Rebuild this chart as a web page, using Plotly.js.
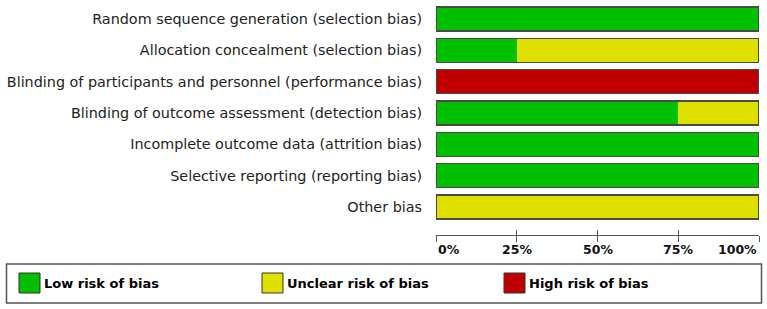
<!DOCTYPE html>
<html>
<head>
<meta charset="utf-8">
<script src="https://cdn.plot.ly/plotly-3.0.1.min.js"></script>
<style>
  html, body { margin: 0; padding: 0; background: #fff; }
  #chart { width: 767px; height: 309px; }
</style>
</head>
<body>
<div id="chart"></div>
<script>
// Risk-of-bias domains, top to bottom
const domains = [
  "Random sequence generation (selection bias)",
  "Allocation concealment (selection bias)",
  "Blinding of participants and personnel (performance bias)",
  "Blinding of outcome assessment (detection bias)",
  "Incomplete outcome data (attrition bias)",
  "Selective reporting (reporting bias)",
  "Other bias"
];

// Percentage of studies per judgement
const lowRisk     = [100, 25, 0, 75, 100, 100, 0];
const unclearRisk = [0, 75, 0, 25, 0, 0, 100];
const highRisk    = [0, 0, 100, 0, 0, 0, 0];

const seriesNames  = ["Low risk of bias", "Unclear risk of bias", "High risk of bias"];
const seriesColors = ["#00c000", "#e0e000", "#c00000"];

const tickValues = [0, 25, 50, 75, 100];
const tickLabels = ["0%", "25%", "50%", "75%", "100%"];

// ---- layout geometry (pixels) ----
const W = 767, H = 309;
const M = { l: 436, r: 8, t: 3, b: 74 };
const plotW = W - M.l - M.r, plotH = H - M.t - M.b;
const px2x = px => (px - M.l) / plotW;
const px2y = py => (H - M.b - py) / plotH;

const series = [lowRisk, unclearRisk, highRisk];
const traces = series.map((vals, i) => ({
  type: "bar",
  orientation: "h",
  name: seriesNames[i],
  x: vals,
  y: domains,
  marker: { color: seriesColors[i], line: { width: 0 } },
  hoverinfo: "x+y+name",
  showlegend: false
}));

// outline drawn around each full bar
const totals = domains.map((_, k) => series.reduce((s, v) => s + v[k], 0));
traces.push({
  type: "bar",
  orientation: "h",
  x: totals,
  y: domains,
  yaxis: "y2",
  marker: { color: "rgba(0,0,0,0)", line: { color: "#4a4a4a", width: 1.2 } },
  hoverinfo: "skip",
  showlegend: false
});

// second x axis supplies the upward half of the crossing ticks
traces.push({
  type: "scatter", mode: "none",
  x: [0, 100], y: [domains[0], domains[0]],
  xaxis: "x2", hoverinfo: "skip", showlegend: false
});

const yRange = [6.894, -0.51];

const shapes = [];
const annotations = [];

// x tick labels: end labels tucked inside the axis span
tickValues.forEach((v, i) => {
  annotations.push({
    xref: "x", yref: "paper", x: v, y: 0,
    xanchor: i === 0 ? "left" : (i === tickValues.length - 1 ? "right" : "center"),
    yanchor: "top", yshift: -5,
    text: tickLabels[i], showarrow: false,
    font: { family: "DejaVu Sans", size: 12.5, color: "#111", weight: "bold" }
  });
});

// legend box
shapes.push({
  type: "rect", xref: "paper", yref: "paper",
  x0: px2x(6.5), x1: px2x(761.5), y0: px2y(264), y1: px2y(303),
  line: { color: "#555", width: 1.5 }, fillcolor: "rgba(0,0,0,0)"
});
const legendX = [19, 262, 504];
seriesNames.forEach((name, i) => {
  shapes.push({
    type: "rect", xref: "paper", yref: "paper",
    x0: px2x(legendX[i]), x1: px2x(legendX[i] + 21),
    y0: px2y(273), y1: px2y(293),
    line: { color: "#333", width: 1 }, fillcolor: seriesColors[i]
  });
  annotations.push({
    xref: "paper", yref: "paper",
    x: px2x(legendX[i] + 23), y: px2y(283),
    xanchor: "left", yanchor: "middle",
    text: name, showarrow: false,
    font: { family: "DejaVu Sans", size: 13, color: "#000", weight: "bold" }
  });
});

const layout = {
  width: W, height: H,
  margin: M,
  paper_bgcolor: "#fff", plot_bgcolor: "#fff",
  barmode: "stack",
  bargap: 0.234,
  showlegend: false,
  xaxis: {
    range: [0, 100], fixedrange: true,
    showgrid: false, zeroline: false,
    showline: true, linecolor: "#555", linewidth: 1,
    ticks: "outside", ticklen: 6, tickcolor: "#555", tickwidth: 1,
    tickvals: tickValues, showticklabels: false
  },
  xaxis2: {
    overlaying: "x", anchor: "y", side: "bottom",
    range: [0, 100], fixedrange: true,
    showgrid: false, zeroline: false, showline: false,
    ticks: "inside", ticklen: 5, tickcolor: "#555", tickwidth: 1,
    tickvals: tickValues, showticklabels: false
  },
  yaxis: {
    type: "category", range: yRange, fixedrange: true,
    showgrid: false, zeroline: false, showline: false,
    ticks: "", ticklabelstandoff: 13,
    tickfont: { family: "DejaVu Sans", size: 14.35, color: "#222" }
  },
  yaxis2: {
    type: "category", overlaying: "y", range: yRange,
    showgrid: false, zeroline: false, showline: false,
    showticklabels: false, ticks: ""
  },
  shapes: shapes,
  annotations: annotations
};

Plotly.newPlot("chart", traces, layout, { staticPlot: true, displayModeBar: false });
</script>
</body>
</html>
